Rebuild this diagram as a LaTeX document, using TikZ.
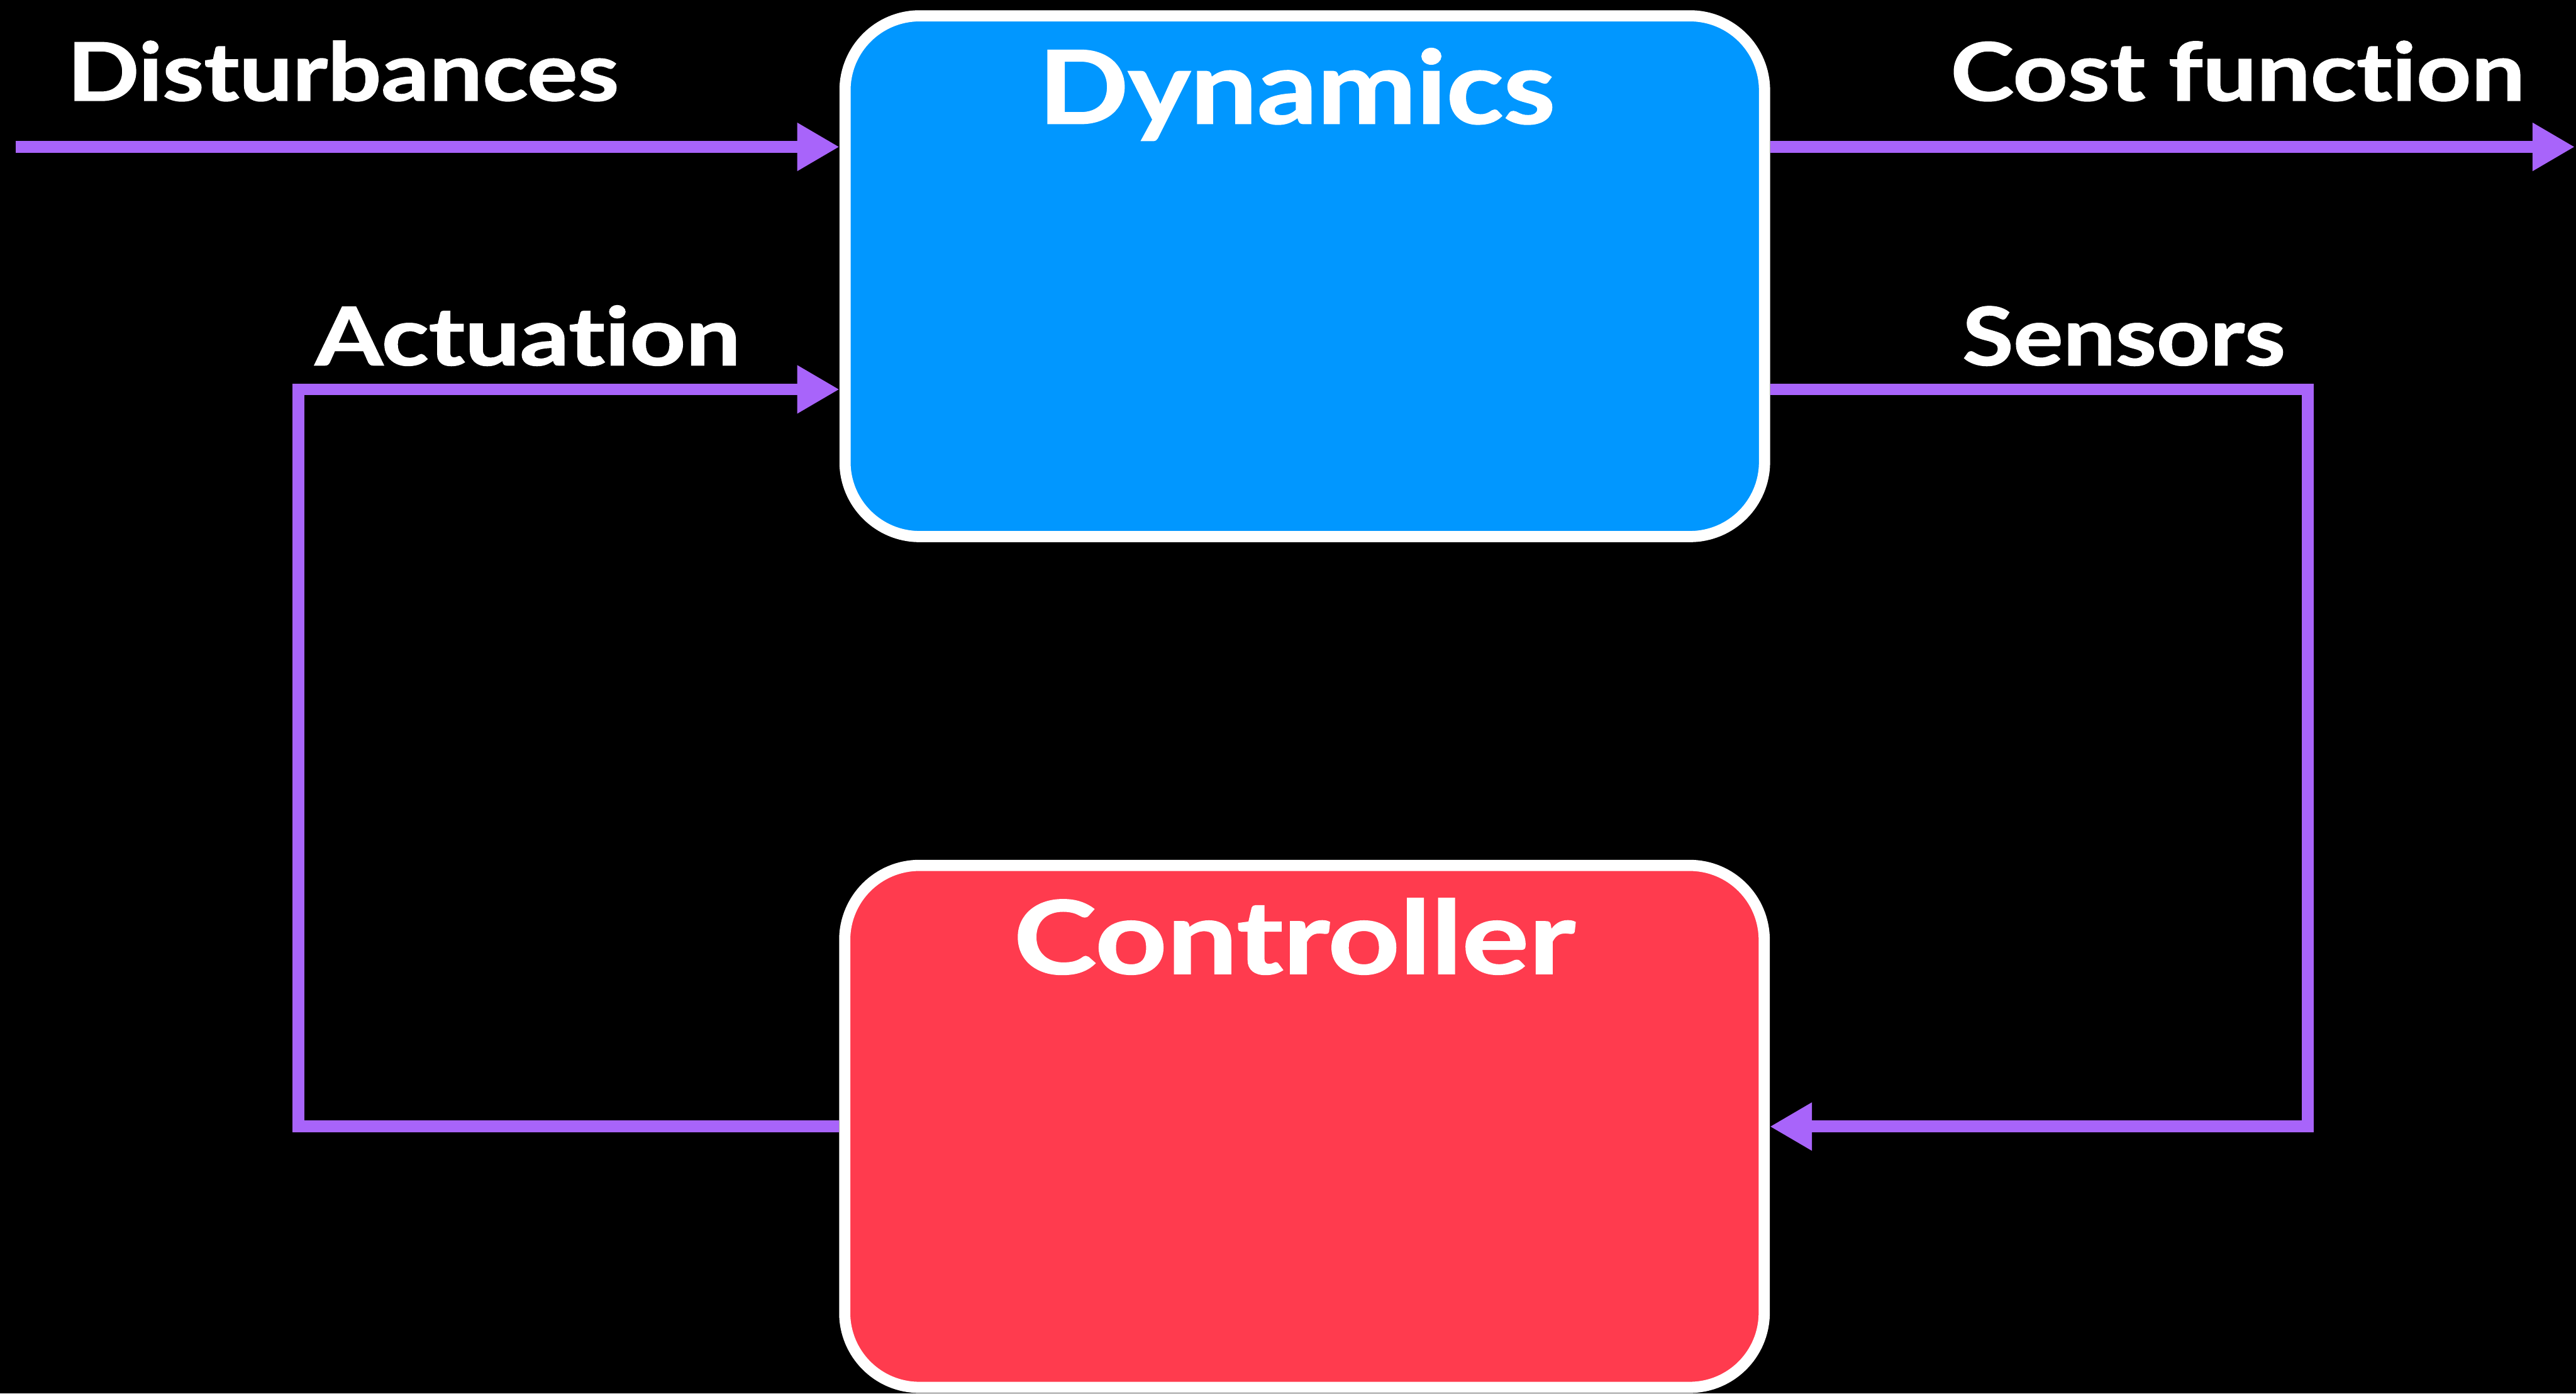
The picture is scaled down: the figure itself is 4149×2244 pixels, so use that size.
\documentclass[tikz,border=0pt]{standalone}
\usepackage{fontspec}
\usepackage{graphicx}
\setmainfont[Ligatures={NoCommon,NoRare,NoContextual},
  BoldFeatures={FakeBold=1.2}]{Lato}
\usetikzlibrary{arrows.meta}
\definecolor{dynblue}{HTML}{0197FF}
\definecolor{ctlred}{HTML}{FF3B4E}
\definecolor{flowpurple}{HTML}{A864FA}
% set a word to a given width while keeping its natural height
\newcommand{\fitw}[2]{\resizebox{#1}{\height}{#2}}
\tikzset{
  blockbox/.style={draw=white, line width=1.8mm, rounded corners=12mm,
    minimum width=148.1mm, inner sep=0pt},
  flow/.style={draw=flowpurple, line width=1.9mm,
    -{Triangle[length=6.8mm, width=7.3mm]}},
  sigtext/.style={text=white, font=\fontsize{36.9pt}{40pt}\selectfont\bfseries,
    anchor=base west, inner sep=0pt},
  boxtitle/.style={text=white, font=\fontsize{46.5pt}{50pt}\selectfont\bfseries,
    anchor=base west, inner sep=0pt}
}
\begin{document}
\begin{tikzpicture}[x=0.1mm, y=-0.1mm]
  % canvas
  \fill[black] (0,0) rectangle (4149,2244);
  \useasboundingbox (0,0) rectangle (4149,2244);

  % blocks
  \node[blockbox, fill=dynblue, minimum height=83.85mm] (dyn) at (2101.5,444.75) {};
  \node[blockbox, fill=ctlred, minimum height=84.05mm] (ctl) at (2101,1813.75) {};
  \node[boxtitle] (dyntitle) at (1672,199) {\fitw{83.2mm}{Dynamics}};
  \node[boxtitle] (ctltitle) at (1632,1568) {\fitw{90.4mm}{Controller}};

  % reference rows and columns of the loop
  \coordinate (toprow) at (0,236.5);
  \coordinate (sigrow) at (0,627);
  \coordinate (ctlrow) at (0,1814);
  \coordinate (leftcol) at (481,0);
  \coordinate (rightcol) at (3717,0);
  \coordinate (distin) at (25,236.5);
  \coordinate (costout) at (4147,236.5);

  % connectors
  \draw[flow] (distin) -- (dyn.west |- toprow);
  \draw[flow] (dyn.east |- toprow) -- (costout);
  \draw[flow] (dyn.east |- sigrow) -- (rightcol |- sigrow)
    -- (rightcol |- ctlrow) -- (ctl.east |- ctlrow);
  \draw[flow] (ctl.west |- ctlrow) -- (leftcol |- ctlrow)
    -- (leftcol |- sigrow) -- (dyn.west |- sigrow);

  % signal labels
  \node[sigtext] (disturb) at (108,162) {\fitw{88.8mm}{Disturbances}};
  \node[sigtext] (cost) at (3141,162) {\fitw{92.5mm}{Cost function}};
  \node[sigtext] (actuation) at (507,588) {\fitw{68.5mm}{Actuation}};
  \node[sigtext] (sensors) at (3160,588) {\fitw{52mm}{Sensors}};
\end{tikzpicture}
\end{document}
